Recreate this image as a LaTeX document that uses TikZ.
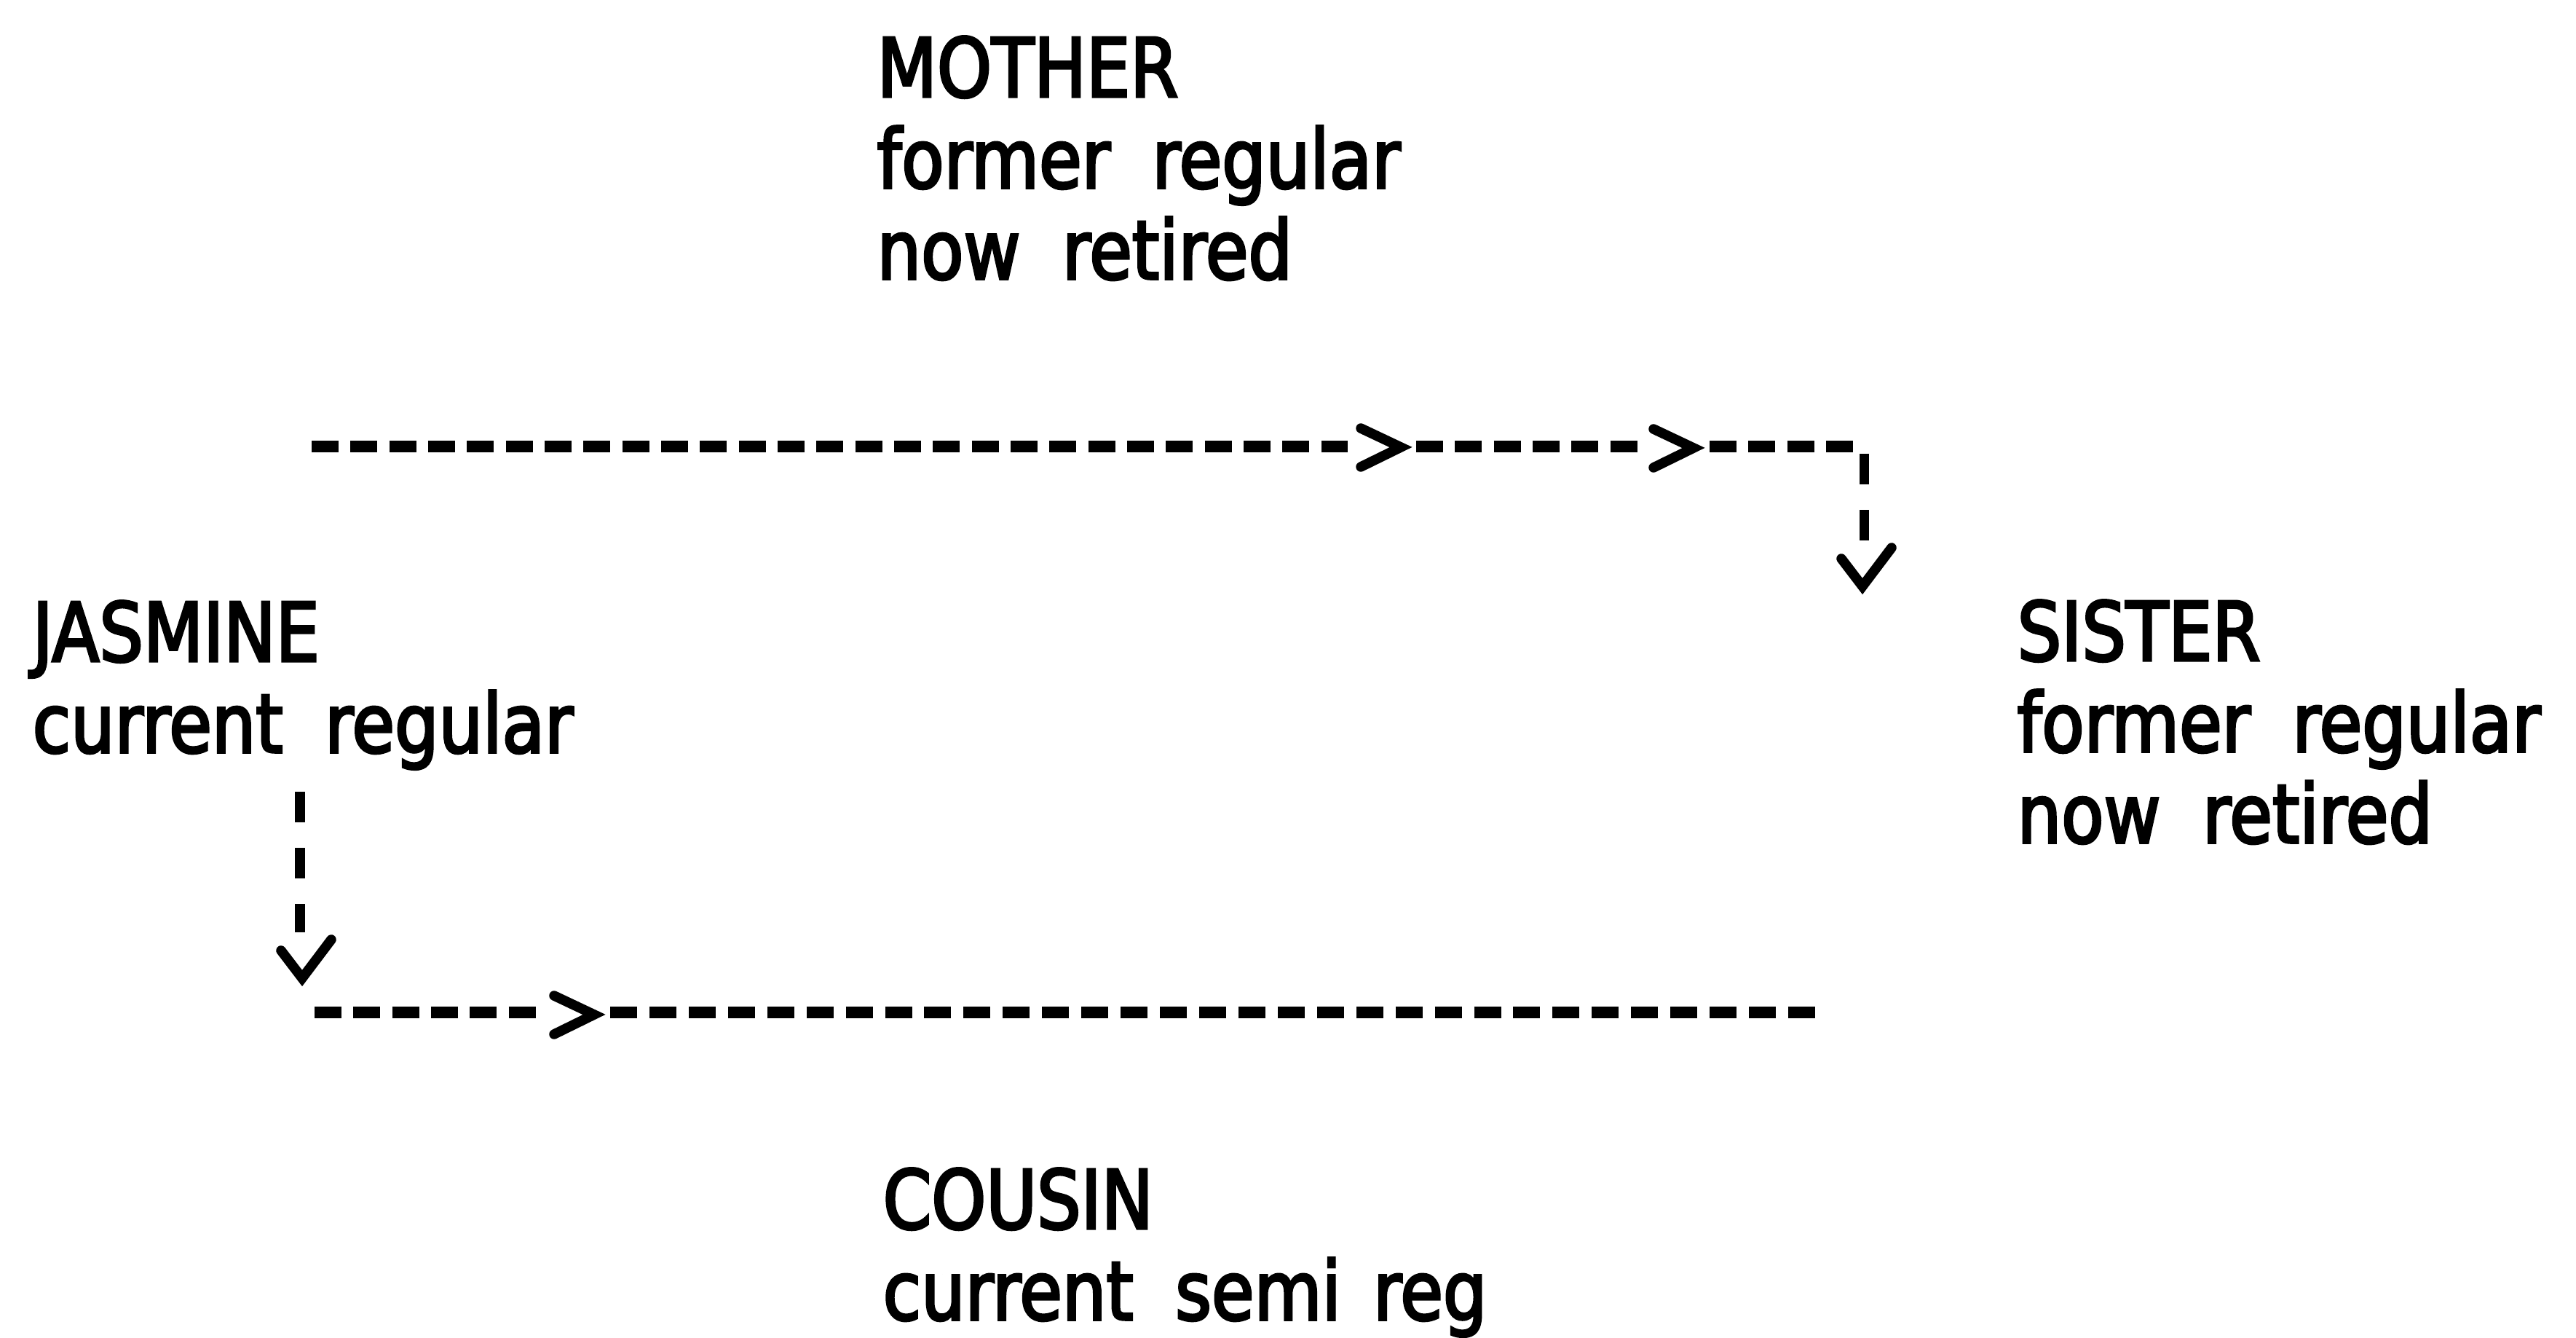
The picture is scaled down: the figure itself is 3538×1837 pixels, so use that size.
\documentclass[tikz,border=0pt]{standalone}
\usepackage{fontspec}
\setmainfont{DejaVu Sans}[FakeStretch=0.85,FakeBold=3,WordSpace=1.9]
\usetikzlibrary{calc}
\begin{document}
\begin{tikzpicture}[x=0.01cm,y=-0.01cm,
  lbl/.style={inner sep=0pt, anchor=base west,
    font=\fontsize{31.9pt}{35.57pt}\selectfont},
  hdash/.style={line width=0.165cm, dash pattern=on 0.37cm off 0.163cm},
  vdash/.style={line width=0.13cm, dash pattern=on 0.42cm off 0.35cm},
  tipline/.style={line width=0.135cm, line cap=round, line join=miter},
  chevr/.pic={\draw[tipline] (-55,-26) -- (0,0) -- (-55,27);},
  vdown/.pic={\draw[tipline] (-29,-38) -- (0,0) -- (40,-53);}
]
\useasboundingbox (0,0) rectangle (3538,1837);

% people
\node[lbl] (mother) at (1204,133)
  {\begin{tabular}[t]{@{}l@{}}MOTHER\\former regular\\now retired\end{tabular}};
\node[lbl] (jasmine) at (44,908)
  {\begin{tabular}[t]{@{}l@{}}JASMINE\\current regular\end{tabular}};
\node[lbl] (sister) at (2770,907)
  {\begin{tabular}[t]{@{}l@{}}SISTER\\former regular\\now retired\end{tabular}};
\node[lbl] (cousin) at (1212,1687)
  {\begin{tabular}[t]{@{}l@{}}COUSIN\\current semi\hspace{-0.12em} reg\end{tabular}};

% upper route: across, then down towards SISTER
\coordinate (u0) at (428,613);
\coordinate (u1) at (1851,613);
\coordinate (u2) at (1945,613);
\coordinate (u3) at (2249,613);
\coordinate (u4) at (2348,613);
\coordinate (u5) at (2545,613);
\coordinate (u6) at (2560,623);
\coordinate (u7) at (2560,745);
\coordinate (uend) at (2558,805);
\draw[hdash] (u0) -- (u1) (u2) -- (u3) (u4) -- (u5);
\draw[vdash] (u6) -- (u7);
\pic at (1924,614) {chevr};
\pic at (2326,615) {chevr};
\pic at (uend) {vdown};

% lower route: down from JASMINE, then across
\coordinate (l0) at (412,1087);
\coordinate (l1) at (412,1280);
\coordinate (lend) at (415,1343);
\coordinate (b0) at (432,1390);
\coordinate (b1) at (740,1390);
\coordinate (b2) at (838,1390);
\coordinate (b3) at (2493,1390);
\draw[vdash] (l0) -- (l1);
\pic at (lend) {vdown};
\draw[hdash] (b0) -- (b1);
\draw[hdash, dash pattern=on 0.37cm off 0.169cm] (b2) -- (b3);
\pic at (816,1393) {chevr};
\end{tikzpicture}
\end{document}
